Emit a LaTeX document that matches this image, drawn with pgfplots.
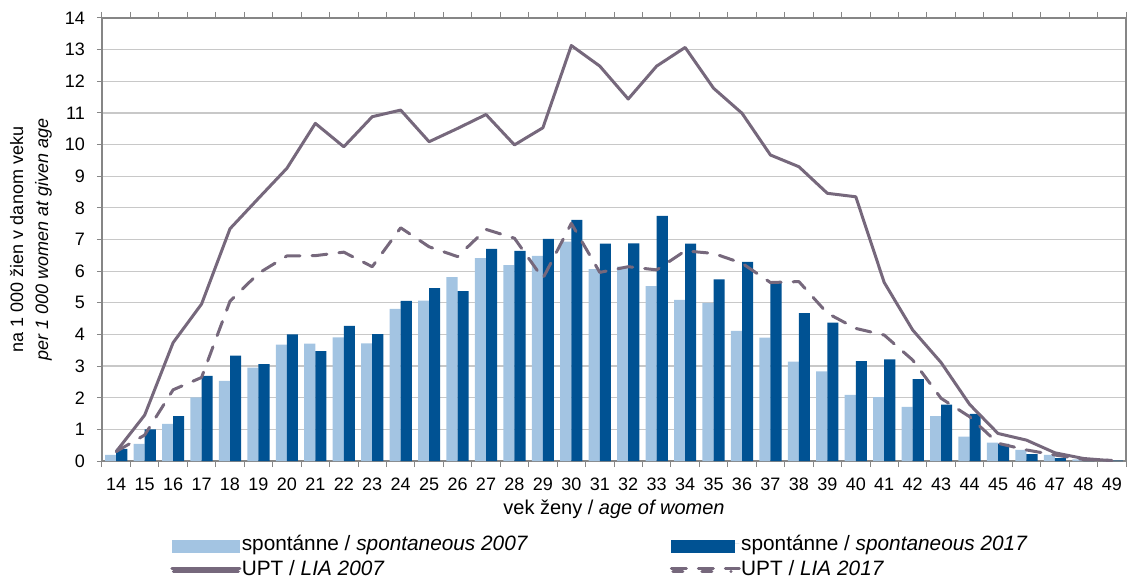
\documentclass[border=0pt]{standalone}
\usepackage{fontspec}
\setmainfont{Liberation Sans}
\usepackage{pgfplots}
\pgfplotsset{compat=1.18}
\definecolor{lightb}{RGB}{163,196,226}
\definecolor{darkb}{RGB}{0,82,147}
\definecolor{linec}{RGB}{118,104,124}
\definecolor{gridc}{RGB}{200,200,200}
\definecolor{axc}{RGB}{134,134,134}
\begin{document}
\begin{tikzpicture}
\useasboundingbox (-51pt,-58.5pt) rectangle (512.5pt,230.5pt);
\begin{axis}[
  at={(0,0)}, anchor=south west,
  scale only axis, width=512pt, height=221.5pt,
  xmin=13.5, xmax=49.5, ymin=0, ymax=14,
  xtick={14,...,49}, ytick={0,1,...,14},
  minor xtick={13.5,14.5,...,49.5},
  major x tick style={draw=none},
  minor x tick style={draw=axc, line width=0.5pt},
  y tick style={draw=axc, line width=0.5pt},
  major tick length=2.5pt, minor tick length=3pt,
  tick align=outside,
  axis line style={draw=axc, line width=0.6pt},
  ymajorgrids, grid style={draw=gridc, line width=0.6pt},
  /pgf/number format/assume math mode=true,
  tick label style={font=\fontsize{9}{10}\selectfont},
  xticklabel style={anchor=base, yshift=-12pt},
  yticklabel style={anchor=east, xshift=-2.5pt},
  xlabel={vek ženy / \textit{age of women}},
  xlabel style={font=\fontsize{10}{12}\selectfont, at={(axis description cs:0.5,0)}, anchor=base, yshift=-26.5pt},
  ylabel={na 1~000 žien v danom veku\\\textit{per 1~000 women at given age}},
  ylabel style={font=\fontsize{9}{12.5}\selectfont, align=center, at={([xshift=-35.5pt]axis description cs:0,0.5)}, anchor=center},
  legend columns=2,
  legend style={draw=none, fill=none, inner sep=0pt, anchor=north west, at={(axis description cs:0.0664,-0.1648)},
    font=\fontsize{10.4}{12}\selectfont,
    nodes={inner xsep=1pt, inner ysep=0.5pt, text height=7.5pt, text depth=1pt, anchor=west},
    /tikz/every odd column/.append style={column sep=-0.8pt},
    /tikz/every even column/.append style={column sep=0pt}, row sep=3pt},
  legend cell align=left,
]
\addplot[ybar, bar width=0.39, bar shift=-0.195, fill=lightb, draw=none,
  legend image code/.code={\path (0pt,0pt) -- (34pt,0pt);\fill[lightb] (0pt,-4.75pt) rectangle (34pt,1.75pt);}]
 coordinates {(14,0.19)(15,0.54)(16,1.17)(17,2.01)(18,2.53)(19,2.95)(20,3.68)(21,3.71)(22,3.91)(23,3.72)(24,4.81)(25,5.07)(26,5.81)(27,6.41)(28,6.19)(29,6.48)(30,6.93)(31,6.06)(32,6.14)(33,5.53)(34,5.09)(35,5.00)(36,4.11)(37,3.90)(38,3.14)(39,2.83)(40,2.09)(41,2.02)(42,1.71)(43,1.42)(44,0.77)(45,0.58)(46,0.35)(47,0.19)(48,0.05)(49,0.02)};
\addlegendentry{\makebox[213pt][l]{spontánne / \textit{spontaneous 2007}}}
\addplot[ybar, bar width=0.39, bar shift=0.195, fill=darkb, draw=none,
  legend image code/.code={\path (0pt,0pt) -- (34pt,0pt);\fill[darkb] (0pt,-4.75pt) rectangle (32pt,1.75pt);}]
 coordinates {(14,0.38)(15,1.00)(16,1.42)(17,2.69)(18,3.33)(19,3.06)(20,4.00)(21,3.47)(22,4.27)(23,4.01)(24,5.06)(25,5.46)(26,5.37)(27,6.70)(28,6.64)(29,7.02)(30,7.62)(31,6.87)(32,6.88)(33,7.75)(34,6.87)(35,5.74)(36,6.29)(37,5.62)(38,4.67)(39,4.37)(40,3.16)(41,3.21)(42,2.59)(43,1.78)(44,1.49)(45,0.54)(46,0.22)(47,0.09)(48,0.03)(49,0.01)};
\addlegendentry{spontánne / \textit{spontaneous 2017}}
\addplot[linec, line width=1.5pt, line join=round, line cap=round,
  legend image code/.code={\path (0pt,0pt) -- (34pt,0pt);\draw[linec, line width=1.5pt, line cap=round] (0.75pt,-1.25pt) -- (33.25pt,-1.25pt);}]
 coordinates {(14,0.30)(15,1.45)(16,3.74)(17,4.96)(18,7.34)(19,8.30)(20,9.25)(21,10.67)(22,9.93)(23,10.88)(24,11.09)(25,10.09)(26,10.51)(27,10.95)(28,9.99)(29,10.53)(30,13.13)(31,12.48)(32,11.44)(33,12.48)(34,13.07)(35,11.78)(36,10.99)(37,9.67)(38,9.30)(39,8.46)(40,8.35)(41,5.64)(42,4.14)(43,3.11)(44,1.79)(45,0.87)(46,0.66)(47,0.26)(48,0.08)(49,0.01)};
\addlegendentry{\makebox[213pt][l]{UPT / \textit{LIA 2007}}}
\addplot[linec, line width=1.5pt, line join=round, line cap=round, dash pattern=on 7.5pt off 6pt,
  legend image code/.code={\path (0pt,0pt) -- (34pt,0pt);\draw[linec, line width=1.5pt, line cap=round, dash pattern=on 5pt off 9.5pt] (0.75pt,-1.25pt) -- (29.9pt,-1.25pt);}]
 coordinates {(14,0.30)(15,0.82)(16,2.25)(17,2.64)(18,5.05)(19,5.93)(20,6.48)(21,6.49)(22,6.60)(23,6.14)(24,7.37)(25,6.77)(26,6.46)(27,7.32)(28,7.04)(29,5.77)(30,7.51)(31,5.96)(32,6.14)(33,6.04)(34,6.64)(35,6.56)(36,6.25)(37,5.64)(38,5.67)(39,4.67)(40,4.19)(41,3.98)(42,3.19)(43,1.98)(44,1.40)(45,0.56)(46,0.35)(47,0.19)(48,0.05)(49,0.02)};
\addlegendentry{UPT / \textit{LIA 2017}}
\end{axis}
\end{tikzpicture}
\end{document}
